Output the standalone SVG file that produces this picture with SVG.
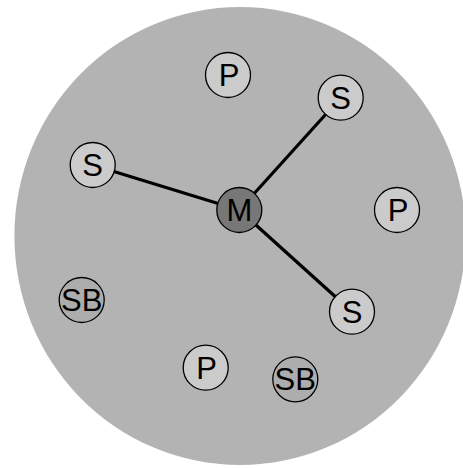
<svg xmlns="http://www.w3.org/2000/svg" width="463" height="468" viewBox="0 0 463 468">
  <style>
    .node { stroke: #000; stroke-width: 1.3; }
    .light { fill: #cbcbcb; }
    .master { fill: #777777; }
    .backup { fill: #adadad; }
    .lbl { font-family: "Liberation Sans", Arial, sans-serif; font-size: 31px; text-anchor: middle; fill: #000; }
    .link { stroke: #000; stroke-width: 3.2; fill: none; }
  </style>
  <rect width="463" height="468" fill="#fff"/>
  <!-- cluster area -->
  <ellipse id="cluster" cx="240" cy="236" rx="225.6" ry="229" fill="#b3b3b3"/>
  <g id="connectors">
    <line class="link" x1="239.3" y1="210" x2="92.7" y2="165"/>
    <line class="link" x1="239.3" y1="210" x2="340.7" y2="97.7"/>
    <line class="link" x1="239.3" y1="210" x2="352" y2="311.7"/>
  </g>
  <g id="p-top">
    <circle class="node light" cx="228" cy="75" r="22.5"/>
    <text class="lbl" x="229" y="86">P</text>
  </g>
  <g id="s-topright">
    <circle class="node light" cx="340.7" cy="97.7" r="22.5"/>
    <text class="lbl" x="340.7" y="108.7">S</text>
  </g>
  <g id="s-left">
    <circle class="node light" cx="92.7" cy="165" r="22.5"/>
    <text class="lbl" x="92.7" y="176">S</text>
  </g>
  <g id="master">
    <circle class="node master" cx="239.3" cy="210" r="22.5"/>
    <text class="lbl" x="239.3" y="221">M</text>
  </g>
  <g id="p-right">
    <circle class="node light" cx="397" cy="210" r="22.5"/>
    <text class="lbl" x="398" y="221">P</text>
  </g>
  <g id="sb-left">
    <circle class="node backup" cx="81.7" cy="300" r="22.5"/>
    <text class="lbl" x="81.7" y="311">SB</text>
  </g>
  <g id="s-bottomright">
    <circle class="node light" cx="352" cy="311.7" r="22.5"/>
    <text class="lbl" x="352" y="322.7">S</text>
  </g>
  <g id="p-bottom">
    <circle class="node light" cx="205.7" cy="367.7" r="22.5"/>
    <text class="lbl" x="206.7" y="378.7">P</text>
  </g>
  <g id="sb-bottom">
    <circle class="node backup" cx="295.3" cy="379.3" r="22.5"/>
    <text class="lbl" x="295.3" y="390.3">SB</text>
  </g>
</svg>
